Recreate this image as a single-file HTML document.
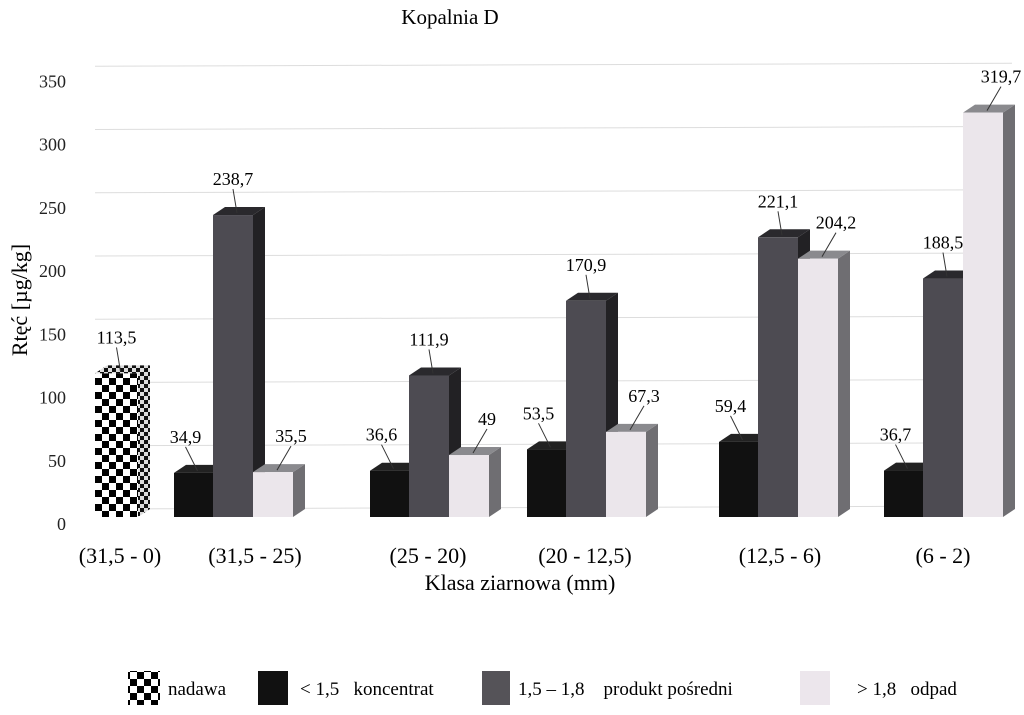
<!DOCTYPE html>
<html><head><meta charset="utf-8"><style>
body{margin:0;background:#fff;}
svg text{font-family:"Liberation Serif",serif;}
</style></head><body>
<svg id="c" width="1024" height="710" viewBox="0 0 1024 710">
<defs>
<pattern id="chk" x="95" y="0" width="14" height="14" patternUnits="userSpaceOnUse"><rect width="14" height="14" fill="#fff"/><rect width="7" height="7" fill="#000"/><rect x="7" y="7" width="7" height="7" fill="#000"/></pattern>
<pattern id="chk2" width="8" height="8" patternUnits="userSpaceOnUse"><rect width="8" height="8" fill="#ddd"/><rect width="4" height="4" fill="#111"/><rect x="4" y="4" width="4" height="4" fill="#111"/></pattern>
</defs>
<text x="450" y="24" font-size="21" text-anchor="middle">Kopalnia D</text>
<g id="grid"></g>
<g id="bars"></g>
<g id="labels"></g>
<text x="520" y="590" font-size="22" text-anchor="middle">Klasa ziarnowa (mm)</text>
<text transform="translate(27,300) rotate(-90)" font-size="22" text-anchor="middle">Rtęć [µg/kg]</text>
<g font-size="19">
<rect x="128" y="671" width="32" height="34" fill="url(#chk)"/>
<text x="168" y="695">nadawa</text>
<rect x="258" y="671" width="30" height="34" fill="#111"/>
<text x="300" y="695">&lt; 1,5 &#160; koncentrat</text>
<rect x="482" y="671" width="28" height="34" fill="#555358"/>
<text x="518" y="695">1,5 – 1,8 &#160;&#160; produkt pośredni</text>
<rect x="800" y="671" width="30" height="34" fill="#ece6ec"/>
<text x="857" y="695">&gt; 1,8 &#160; odpad</text>
</g>
</svg>
<script>
const categories=["(31,5 - 0)","(31,5 - 25)","(25 - 20)","(20 - 12,5)","(12,5 - 6)","(6 - 2)"];
const nadawa=[113.5];
const koncentrat=[34.9,36.6,53.5,59.4,36.7];
const produkt=[238.7,111.9,170.9,221.1,188.5];
const odpad=[35.5,49,67.3,204.2,319.7];
const yTicks=[0,50,100,150,200,250,300,350];
const NS="http://www.w3.org/2000/svg";
const base=517,k=1.265,dx=12,dy=8;
const y=v=>base-v*k;
const groupX=[174,370,527,719,884];
const catX=[120,255,428,585,780,943];
function el(t,a,p){const e=document.createElementNS(NS,t);for(const n in a)e.setAttribute(n,a[n]);p.appendChild(e);return e;}
const grid=document.getElementById('grid'),bars=document.getElementById('bars'),labs=document.getElementById('labels');
yTicks.forEach(v=>{
  const l=el('line',{x1:95,x2:1012,y1:y(v)-dy,y2:y(v)-dy-3,stroke:'#ddd','stroke-width':1},grid);
  
  const t=el('text',{x:66,y:y(v)+13,'font-size':18,'text-anchor':'end',fill:'#222'},grid);
  t.textContent=v;
});
categories.forEach((c,i)=>{
  const t=el('text',{x:catX[i],y:563,'font-size':22,'text-anchor':'middle'},labs);
  t.textContent=c;
});
function bar(x,w,v,front,top,side,name,label,lx){
  const g=el('g',{},bars);
  const yt=y(v);
  el('polygon',{points:`${x+w},${yt} ${x+w+dx},${yt-dy} ${x+w+dx},${base-dy} ${x+w},${base}`,fill:side},g);
  el('polygon',{points:`${x},${yt} ${x+dx},${yt-dy} ${x+w+dx},${yt-dy} ${x+w},${yt}`,fill:top},g);
  el('rect',{x:x,y:yt,width:w,height:base-yt,fill:front},g);
  const cx=x+w/2+(lx||0);
  const t=el('text',{x:cx,y:yt-dy-22,'font-size':18,'text-anchor':'middle'},labs);
  t.textContent=label;
  const ln=el('line',{x1:cx,y1:yt-dy-18,x2:x+w/2+4,y2:yt-dy+6,stroke:'#333','stroke-width':1},labs);
  
}
const fmt=v=>String(v).replace('.',',');
bar(95,43,nadawa[0],'url(#chk)','url(#chk2)','url(#chk2)','bar-nadawa',fmt(nadawa[0]),0);
groupX.forEach((gx,i)=>{
  bar(gx,39,koncentrat[i],'#111','#222','#050505','bar-koncentrat-'+i,fmt(koncentrat[i]),-8);
  bar(gx+39,40,produkt[i],'#4d4b52','#2a292d','#222124','bar-produkt-'+i,fmt(produkt[i]),0);
  bar(gx+79,40,odpad[i],'#ebe6eb','#8a8a8e','#6f6e72','bar-odpad-'+i,fmt(odpad[i]),18);
});
</script>
</body></html>
